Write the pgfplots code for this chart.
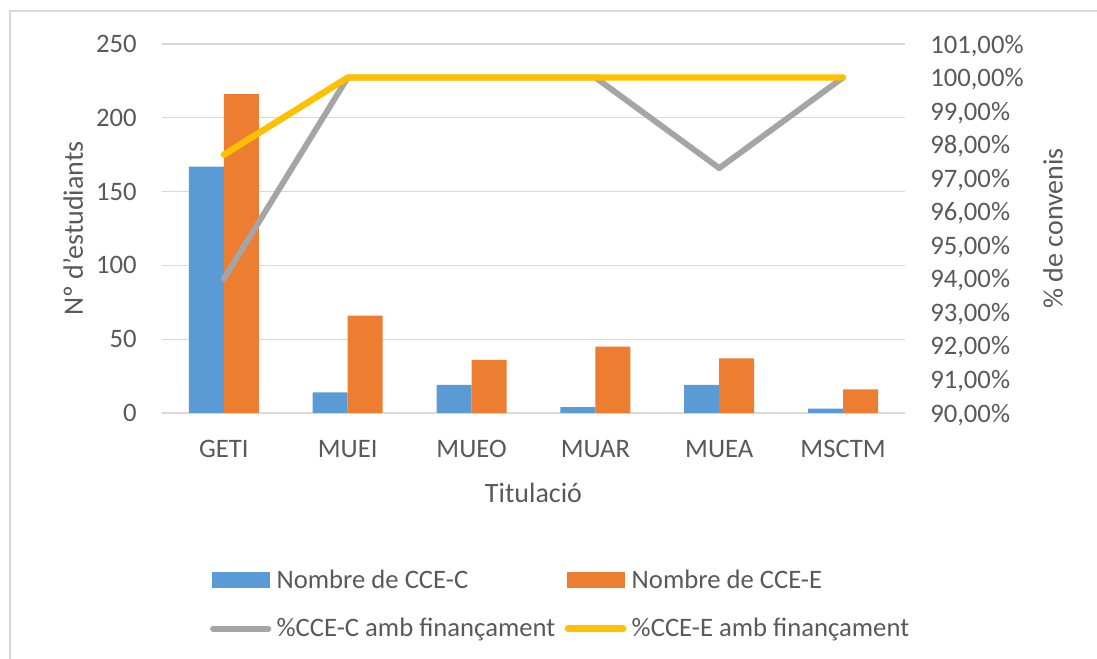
\documentclass[border=0pt]{standalone}
\usepackage{fontspec}
\setmainfont{Carlito}
\usepackage{pgfplots}
\pgfplotsset{compat=1.18}

\definecolor{cblue}{RGB}{91,155,213}
\definecolor{corange}{RGB}{237,125,49}
\definecolor{cgray}{RGB}{165,165,165}
\definecolor{cyellow}{RGB}{255,192,0}
\definecolor{ctext}{RGB}{89,89,89}
\definecolor{cgrid}{RGB}{217,217,217}

\pgfplotsset{
  base/.style={
    at={(121.5pt,184.5pt)}, anchor=south west,
    width=557.25pt, height=276.75pt, scale only axis,
    xmin=-0.5, xmax=5.5,
    axis line style={draw=none},
    major tick length=0pt,
    tick style={draw=none},
    /pgf/number format/assume math mode=true,
    every tick label/.append style={font=\fontsize{20}{24}\selectfont, text=ctext, inner sep=0pt},
    label style={font=\fontsize{21}{25}\selectfont, text=ctext, inner sep=0pt},
  },
  barleg/.style={legend image code/.code={\fill[##1] (2pt,-6pt) rectangle (45.5pt,6pt);}},
  lineleg/.style={legend image code/.code={\draw[##1] (3pt,0pt) -- (44.5pt,0pt);}},
}

\begin{document}
\begin{tikzpicture}
\useasboundingbox (0,0) rectangle (822.75pt,494.25pt);
\draw[cgrid, line width=1.1pt] (7.5pt,0pt) -- (7.5pt,486pt) -- (822.75pt,486pt);

% barres: nombre d'estudiants
\begin{axis}[base,
  ymin=0, ymax=250, ytick={0,50,...,250},
  ymajorgrids, grid style={cgrid, line width=1pt},
  xtick={0,...,5}, xticklabels={GETI,MUEI,MUEO,MUAR,MUEA,MSCTM},
  xticklabel style={yshift=-20pt},
  yticklabel style={xshift=-18.75pt},
  ybar=0pt, bar width=26.25pt,
  xlabel={Titulació}, ylabel={Nº d'estudiants},
  xlabel style={at={([yshift=-52.5pt]axis description cs:0.5,0)}, anchor=north},
  ylabel style={at={([xshift=-59pt]axis description cs:0,0.5)}, anchor=south},
]
\addplot[fill=cblue, draw=none] coordinates {(0,167) (1,14) (2,19) (3,4) (4,19) (5,3)};
\addplot[fill=corange, draw=none] coordinates {(0,216) (1,66) (2,36) (3,45) (4,37) (5,16)};
\end{axis}

% línies: percentatge amb finançament
\begin{axis}[base,
  ymin=90, ymax=101, ytick={90,...,101},
  hide x axis,
  yticklabel pos=right,
  yticklabel style={xshift=18.75pt, text depth=0pt},
  yticklabel={\pgfmathprintnumber[fixed,fixed zerofill,precision=2,use comma]{\tick}\%},
  ylabel={\% de convenis},
  ylabel style={at={([xshift=103.5pt]axis description cs:1,0.5)}, anchor=north},
  legend columns=2,
  legend style={draw=none, fill=none, at={(0.059,-0.417)}, anchor=north west,
    font=\fontsize{20}{24}\selectfont, text=ctext, row sep=21pt,
    nodes={inner sep=0pt}, cells={anchor=west},
    /tikz/every odd column/.append style={column sep=4pt},
    /tikz/every even column/.append style={column sep=7pt}},
]
\addlegendimage{barleg, fill=cblue, draw=none}
\addlegendentry{Nombre de CCE-C}
\addlegendimage{barleg, fill=corange, draw=none}
\addlegendentry{Nombre de CCE-E}
\addplot[cgray, line width=4.4pt, line join=round, line cap=round, lineleg]
  coordinates {(0,94.0) (1,100) (2,100) (3,100) (4,97.3) (5,100)};
\addlegendentry{\%CCE-C amb finançament}
\addplot[cyellow, line width=4.8pt, line join=round, line cap=round, lineleg]
  coordinates {(0,97.7) (1,100) (2,100) (3,100) (4,100) (5,100)};
\addlegendentry{\%CCE-E amb finançament}
\end{axis}
\end{tikzpicture}
\end{document}
